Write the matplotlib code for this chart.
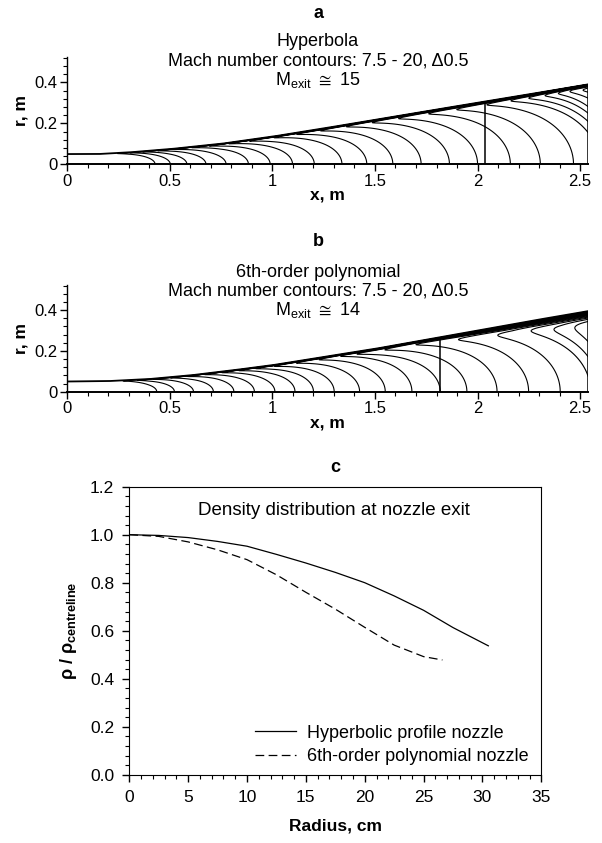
import numpy as np
import matplotlib
matplotlib.use('Agg')
import matplotlib.pyplot as plt
from matplotlib.ticker import MultipleLocator

plt.rcParams['font.family'] = ['Liberation Sans', 'DejaVu Sans']
plt.rcParams['mathtext.fontset'] = 'custom'
plt.rcParams['mathtext.rm'] = 'Liberation Sans'
plt.rcParams['mathtext.bf'] = 'Liberation Sans:bold'
plt.rcParams['mathtext.fallback'] = 'stixsans'

# ---------------- data ----------------
mach_levels = [7.5, 8.0, 8.5, 9.0, 9.5, 10.0, 10.5, 11.0, 11.5, 12.0, 12.5, 13.0,
               13.5, 14.0, 14.5, 15.0, 15.5, 16.0, 16.5, 17.0, 17.5, 18.0, 18.5,
               19.0, 19.5, 20.0]

# Panel a: hyperbolic nozzle
wall_x_a = [0.0, 0.15, 0.3, 0.5, 0.75, 1.0, 1.25, 1.5, 1.75, 2.0, 2.25, 2.54]
wall_r_a = [0.05, 0.05, 0.058, 0.074, 0.100, 0.135, 0.175, 0.217, 0.259, 0.300, 0.341, 0.390]
# contour positions on the axis (beyond 2.54: virtual) and where they meet the wall
axis_x_a = [0.428, 0.502, 0.583, 0.676, 0.774, 0.883, 0.989, 1.098, 1.204, 1.339,
            1.460, 1.587, 1.725, 1.863, 2.000, 2.160, 2.306, 2.468, 2.594, 2.631,
            2.656, 2.672, 2.726, 2.80, 2.90]
wallx_a = [0.158, 0.212, 0.263, 0.326, 0.394, 0.473, 0.544, 0.633, 0.724, 0.839,
           0.940, 1.047, 1.165, 1.283, 1.400, 1.540, 1.666, 1.808, 1.930, 2.040,
           2.150, 2.240, 2.300, 2.340, 2.460]
exit_x_a = 2.037
bl_x_a = [0.0, 2.54]
bl_delta_a = [0.008, 0.012]

# Panel b: 6th-order polynomial nozzle
wall_x_b = [0.0, 0.2, 0.4, 0.6, 0.8, 1.0, 1.25, 1.5, 1.75, 2.0, 2.25, 2.54]
wall_r_b = [0.05, 0.052, 0.062, 0.080, 0.104, 0.130, 0.170, 0.210, 0.255, 0.300, 0.345, 0.395]
axis_x_b = [0.436, 0.522, 0.615, 0.712, 0.812, 0.912, 1.012, 1.110, 1.200, 1.301,
            1.425, 1.550, 1.680, 1.818, 1.948, 2.095, 2.249, 2.403, 2.552, 2.595,
            2.633, 2.656, 2.700]
wallx_b = [0.190, 0.250, 0.320, 0.395, 0.470, 0.545, 0.620, 0.695, 0.770, 0.850,
           0.945, 1.045, 1.150, 1.180, 1.310, 1.460, 1.600, 1.740, 1.883, 2.030,
           2.200, 2.350, 2.500]
exit_x_b = 1.818
bl_x_b = [0.0, 1.7, 2.54]
bl_delta_b = [0.008, 0.012, 0.045]

# Panel c: density at nozzle exit
radius_h = [0, 2.5, 5, 7.5, 10, 12.5, 15, 17.5, 20, 22.5, 25, 27.5, 30.5]
rho_h = [1.0, 0.997, 0.988, 0.972, 0.952, 0.918, 0.882, 0.843, 0.800, 0.745, 0.685, 0.613, 0.537]
radius_p = [0, 2.5, 5, 7.5, 10, 12.5, 15, 17.5, 20, 22.5, 25, 26.6]
rho_p = [1.0, 0.993, 0.970, 0.937, 0.896, 0.833, 0.760, 0.690, 0.614, 0.540, 0.492, 0.478]

# ---------------- helpers ----------------
def mach_field(wx, wr, ax_x, w_x, blx, bld, xmax):
    lev = np.array(mach_levels[:len(ax_x)])
    ax_x = np.array(ax_x)
    w_x = np.array(w_x)
    xg = np.linspace(0, xmax, 900)
    eta = np.linspace(0, 1, 900)
    f = 1 - np.sqrt(1 - eta ** 2)
    M = np.empty((eta.size, xg.size))
    for j, fj in enumerate(f):
        xk = ax_x * (1 - fj) + w_x * fj
        row = np.interp(xg, xk, lev)
        s0 = 0.5 / (xk[1] - xk[0])
        row = np.where(xg < xk[0], lev[0] + (xg - xk[0]) * s0, row)
        row = np.where(xg > xk[-1], lev[-1] + 0.2, row)
        M[j] = row
    X, E = np.meshgrid(xg, eta)
    delta = np.interp(X, blx, bld)
    M = M - 12.0 * np.exp(-(1 - E) / delta)
    R = E * np.interp(X, wx, wr)
    return X, R, M


def nozzle_panel(ax, wx, wr, ax_x, w_x, exit_x, blx, bld):
    xmax = wx[-1]
    X, R, M = mach_field(wx, wr, ax_x, w_x, blx, bld, xmax)
    ax.contour(X, R, M, levels=mach_levels, colors='k', linewidths=0.8)
    xs = np.linspace(0, xmax, 400)
    ax.plot(xs, np.interp(xs, wx, wr), color='k', lw=1.3, solid_capstyle='butt')
    ax.vlines([exit_x, xmax], 0, np.interp([exit_x, xmax], wx, wr), color='k', lw=1.1)
    ax.set_xlim(0, xmax)
    ax.set_ylim(0, 0.525)
    for s in ['top', 'right']:
        ax.spines[s].set_visible(False)
    ax.spines['bottom'].set_linewidth(1.4)
    ax.spines['left'].set_linewidth(1.0)
    ax.set_xticks([0, 0.5, 1, 1.5, 2, 2.5])
    ax.set_xticklabels(['0', '0.5', '1', '1.5', '2', '2.5'])
    ax.set_yticks([0, 0.2, 0.4])
    ax.set_yticklabels(['0', '0.2', '0.4'])
    ax.xaxis.set_minor_locator(MultipleLocator(0.1))
    ax.yaxis.set_minor_locator(MultipleLocator(0.04))
    ax.tick_params(which='major', length=5, width=1, labelsize=12, pad=2)
    ax.tick_params(which='minor', length=3, width=0.8)
    ax.set_xlabel('x, m', fontsize=12.5, fontweight='bold', labelpad=-1)
    ax.set_ylabel('r, m', fontsize=12.5, fontweight='bold', labelpad=4)


fig = plt.figure(figsize=(6.02, 8.43), dpi=100)
W, H = 602.0, 843.0

ax_a = fig.add_axes([67.3 / W, 1 - 164.3 / H, 521 / W, 0.525 * 205 / H])
nozzle_panel(ax_a, wall_x_a, wall_r_a, axis_x_a, wallx_a, exit_x_a, bl_x_a, bl_delta_a)

ax_b = fig.add_axes([67.3 / W, 1 - 391.7 / H, 521 / W, 0.525 * 204 / H])
nozzle_panel(ax_b, wall_x_b, wall_r_b, axis_x_b, wallx_b, exit_x_b, bl_x_b, bl_delta_b)

cx = 318 / W
tf = 13
fig.text(cx, 1 - 13 / H, 'a', ha='center', va='center', fontsize=13, fontweight='bold')
fig.text(cx, 1 - 42 / H, 'Hyperbola', ha='center', va='center', fontsize=tf)
fig.text(cx, 1 - 61 / H, 'Mach number contours: 7.5 - 20, \u03940.5', ha='center', va='center', fontsize=tf)
fig.text(cx, 1 - 80 / H, r'M$_{\mathregular{exit}}$ $\cong$ 15', ha='center', va='center', fontsize=tf)

fig.text(cx, 1 - 241 / H, 'b', ha='center', va='center', fontsize=13, fontweight='bold')
fig.text(cx, 1 - 272 / H, '6th-order polynomial', ha='center', va='center', fontsize=tf)
fig.text(cx, 1 - 291 / H, 'Mach number contours: 7.5 - 20, \u03940.5', ha='center', va='center', fontsize=tf)
fig.text(cx, 1 - 310 / H, r'M$_{\mathregular{exit}}$ $\cong$ 14', ha='center', va='center', fontsize=tf)

# Panel c
ax_c = fig.add_axes([129.3 / W, 1 - 774.7 / H, 412 / W, 288 / H])
ax_c.plot(radius_h, rho_h, color='k', lw=0.9, label='Hyperbolic profile nozzle')
ax_c.plot(radius_p, rho_p, color='k', lw=0.9, dashes=(7, 3.5), label='6th-order polynomial nozzle')
ax_c.set_xlim(0, 35)
ax_c.set_ylim(0, 1.2)
ax_c.set_xticks(range(0, 36, 5))
ax_c.set_yticks([0, 0.2, 0.4, 0.6, 0.8, 1.0, 1.2])
ax_c.set_yticklabels(['0.0', '0.2', '0.4', '0.6', '0.8', '1.0', '1.2'])
ax_c.xaxis.set_minor_locator(MultipleLocator(1))
ax_c.yaxis.set_minor_locator(MultipleLocator(0.04))
ax_c.tick_params(which='major', length=5, width=1, labelsize=12.5, pad=6)
ax_c.tick_params(which='minor', length=3, width=0.8)
ax_c.set_xlabel('Radius, cm', fontsize=12.5, fontweight='bold', labelpad=10)
ax_c.set_ylabel(r'ρ / ρ$_{\mathregular{centreline}}$', fontsize=13, fontweight='bold', labelpad=8)
ax_c.text(17.4, 1.10, 'Density distribution at nozzle exit', ha='center', va='center', fontsize=13.5)
leg = ax_c.legend(loc='lower right', frameon=False, fontsize=13, handlelength=2.3,
                  handletextpad=0.6, bbox_to_anchor=(1.0, -0.01), borderaxespad=0.3,
                  labelspacing=0.35)
fig.text((129.3 + 206) / W, 1 - 467 / H, 'c', ha='center', va='center', fontsize=13, fontweight='bold')

fig.savefig('out.png', dpi=100)
